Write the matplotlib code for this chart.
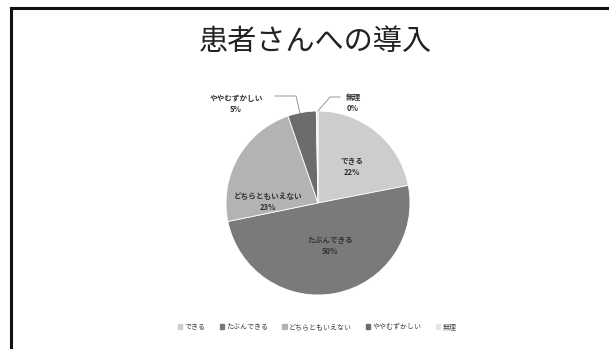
import matplotlib.pyplot as plt
from matplotlib.lines import Line2D

plt.rcParams['font.family'] = ['Noto Sans CJK JP', 'DejaVu Sans']

# survey answers
categories = ['できる', 'たぶんできる', 'どちらともいえない', 'ややむずかしい', '無理']
shares = [22, 50, 23, 5, 0.3]
pct_labels = ['22%', '50%', '23%', '5%', '0%']
colors = ['#cdcdcd', '#7a7a7a', '#b3b3b3', '#6c6c6c', '#e6e6e6']

W, H = 609, 349
fig = plt.figure(figsize=(W / 100, H / 100), dpi=100)

# slide frame (top and left edges)
fig.add_artist(Line2D([10.5 / W, 10.5 / W], [0, 1 - 7.5 / H], color='#111111', lw=2.2))
fig.add_artist(Line2D([10.5 / W, 1], [1 - 7.5 / H, 1 - 7.5 / H], color='#111111', lw=2.2))

fig.text(315 / W, 1 - 42 / H, '患者さんへの導入', ha='center', va='center',
         fontsize=21, color='#222222')

cx, cy, r = 318, 203, 92
ax = fig.add_axes([(cx - r) / W, (H - cy - r) / H, 2 * r / W, 2 * r / H])
wedges, _ = ax.pie(shares, colors=colors, startangle=90, counterclock=False,
                   wedgeprops=dict(edgecolor='white', linewidth=0.6))
ax.set_xlim(-1, 1)
ax.set_ylim(-1, 1)
ax.set_aspect('auto')
ax.axis('off')

# data label positions (pixel coords of the slide)
label_pos = [(352, 167), (330, 246), (268, 202), (236, 104), (353, 103)]
for name, pct, (x, y) in zip(categories, pct_labels, label_pos):
    fig.text(x / W, 1 - y / H, f'{name}\n{pct}', ha='center', va='center',
             fontsize=5.5, color='#333333', linespacing=1.3, fontweight='bold')

# leader lines for the small slices
fig.add_artist(Line2D([275 / W, 296 / W, 300 / W], [1 - 96 / H, 1 - 96 / H, 1 - 113 / H],
                      color='#888888', lw=0.6))
fig.add_artist(Line2D([340 / W, 330 / W, 318 / W], [1 - 97 / H, 1 - 97 / H, 1 - 111 / H],
                      color='#888888', lw=0.6))

handles = [plt.Rectangle((0, 0), 1, 1, color=c) for c in colors]
fig.legend(handles, categories, loc='center', bbox_to_anchor=(317 / W, 1 - 327 / H),
           ncol=5, fontsize=5, frameon=False, handlelength=0.6, handleheight=0.6,
           handletextpad=0.3, columnspacing=2.1, labelcolor='#444444')

fig.savefig('out.png', dpi=100)
